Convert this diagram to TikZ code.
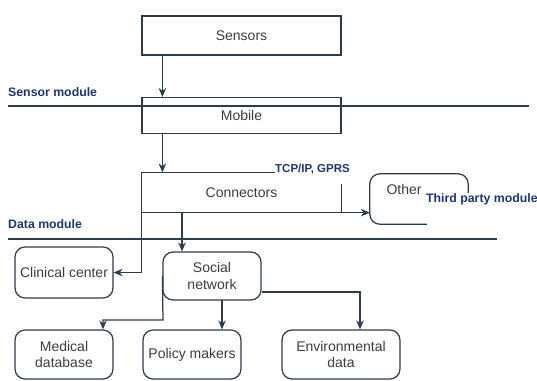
\documentclass[tikz,border=0pt]{standalone}
\usepackage{fontspec}
\setmainfont{Liberation Sans}
\usetikzlibrary{arrows.meta,calc}
\definecolor{lncol}{HTML}{2E3B4A}
\definecolor{txcol}{HTML}{3C3C3C}
\definecolor{labcol}{HTML}{1E3575}
\begin{document}
\begin{tikzpicture}[x=1pt,y=-1pt,
  font=\fontsize{14}{16.5}\selectfont,
  wire/.style={draw=lncol, line width=1.25pt},
  box/.style={wire, text=txcol, inner sep=0pt, align=center,
              minimum width=98pt, minimum height=49pt},
  rbox/.style={box, rounded corners=10pt},
  sqbox/.style={box, minimum width=199pt, minimum height=39pt},
  arr/.style={wire, -{Stealth[length=9pt,width=7.5pt]}},
  lbl/.style={text=labcol, inner sep=0pt, font=\bfseries\fontsize{12.3}{14}\selectfont}]
\useasboundingbox (0,0) rectangle (537,380);

% module separators
\draw[wire] (8,106) -- (529,106);
\draw[wire] (8,239) -- (497,239);
\node[lbl, anchor=west] (sensmod) at (8,92) {Sensor module};
\node[lbl, anchor=west] (datamod) at (8,224) {Data module};

% top boxes
\node[sqbox] (sensors) at (241.5,35.5) {Sensors};
\node[sqbox, minimum height=36pt] (mobile) at (241.5,115.6) {Mobile};
\node[box, draw=none, minimum width=199pt, minimum height=39pt] (conn) at (241.5,192.5) {Connectors};

\draw[arr] ($(sensors.south west)+(21,0)$) -- ($(mobile.north west)+(21,0)$);
\draw[arr] ($(mobile.south west)+(21,0)$) -- ($(conn.north west)+(21,0)$);

% connectors outline
\node[lbl, anchor=west, font=\bfseries\fontsize{11.5}{13}\selectfont] (tcp) at (275,169) {TCP/IP, GPRS};
\draw[wire] (conn.north west) -- (tcp.west |- conn.north);
\draw[wire] (conn.south east) -- ++(0,-29);

% other / third party
\node[minimum width=98pt, minimum height=50pt, inner sep=0pt] (other) at (419,199) {};
\draw[wire, rounded corners=10pt] ($(other.north east)+(0,19)$) -- (other.north east)
   -- (other.north west) -- (other.south west) -- ($(other.south west)+(57,0)$);
\node[text=txcol, anchor=center] (otherlabel) at (404,189) {Other};
\node[lbl, anchor=west] (third) at (426,199) {Third party module};
\draw[arr] (conn.south west) -- (other.west |- conn.south);

% data module boxes
\node[rbox, minimum height=51pt] (clin) at (64,272.5) {Clinical center};
\node[rbox, minimum height=48pt] (social) at (212,276) {Social\\network};
\node[rbox] (medical) at (64,354.5) {Medical\\database};
\node[rbox] (policy) at (192,354.5) {Policy makers};
\node[rbox, minimum width=118pt] (env) at (341,354.5) {Environmental\\data};

\draw[arr] (conn.north west) -- (conn.north west |- clin.east) -- (clin.east);
\coordinate (cdown) at (182,212);
\draw[arr] (cdown) -- (cdown |- social.north);

% social network fan-out
\coordinate (mbend) at (163,320);
\coordinate (mtop) at (103,320);
\draw[arr] (social.west) -- (mbend) -- (mtop) -- (mtop |- medical.north);
\coordinate (pdown) at (222,300);
\draw[arr] (pdown) -- (pdown |- policy.north);
\coordinate (eright) at (360,292);
\draw[arr] (social.east |- eright) -- (eright) -- (eright |- env.north);
\end{tikzpicture}
\end{document}
